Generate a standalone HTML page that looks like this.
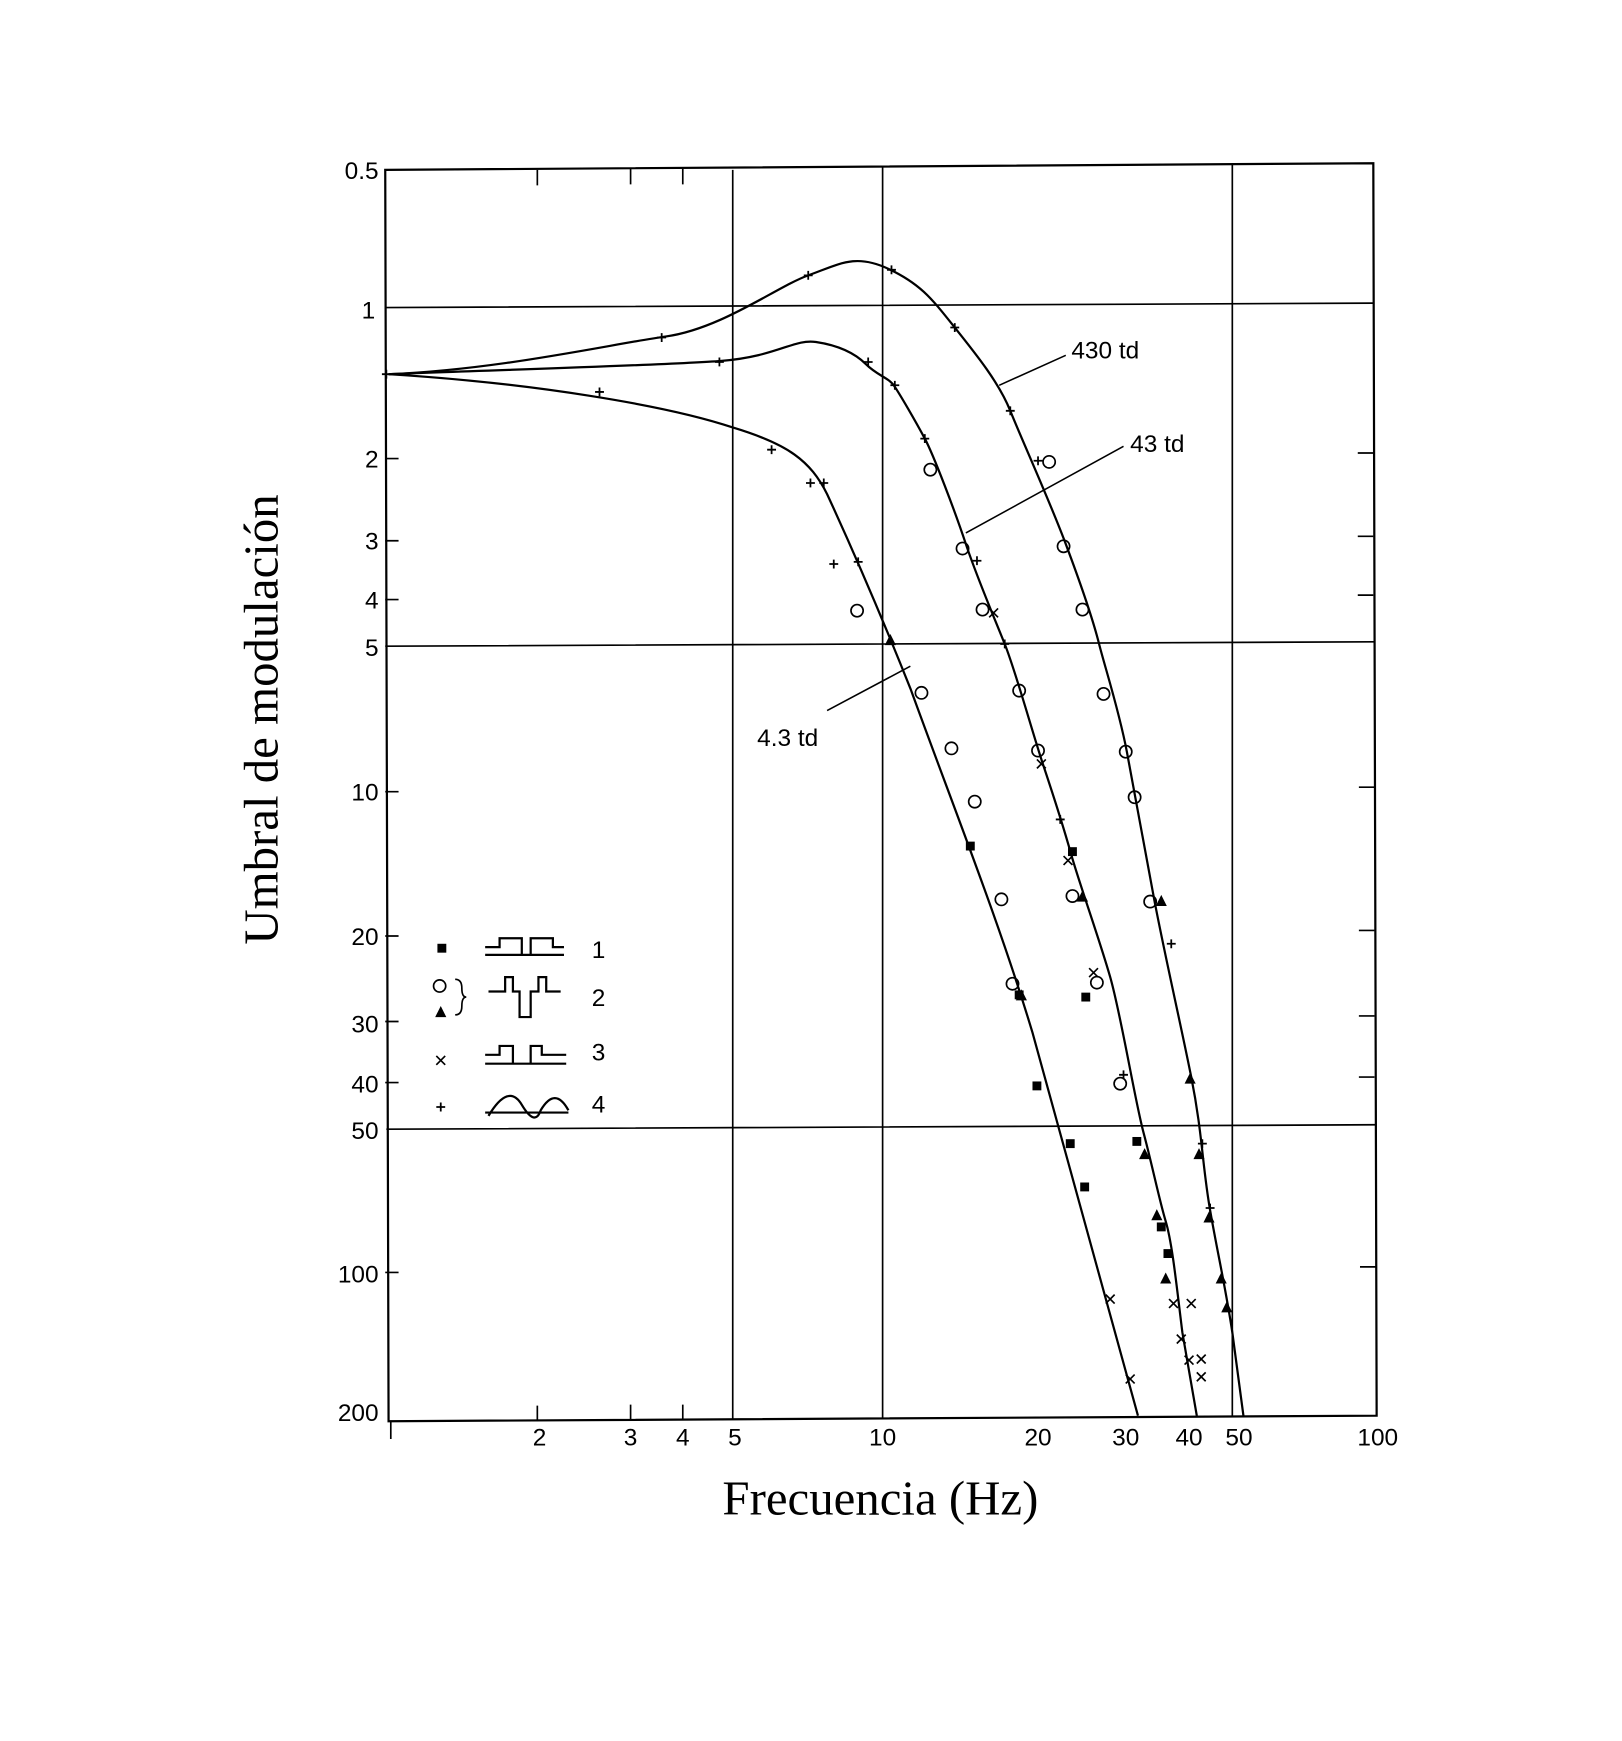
<!DOCTYPE html>
<html><head><meta charset="utf-8"><style>html,body{margin:0;padding:0;background:#fff}svg{display:block}</style></head><body>
<svg width="1622" height="1741" viewBox="0 0 1461 1568" preserveAspectRatio="none" xmlns="http://www.w3.org/2000/svg">
<defs>
<g id="p"><path d="M-4 0H4M0 -4V4" stroke="#000" stroke-width="1.6"/></g>
<g id="o"><circle r="5.5" fill="none" stroke="#000" stroke-width="1.5"/></g>
<g id="x"><path d="M-4 -4L4 4M-4 4L4 -4" stroke="#000" stroke-width="1.5"/></g>
<g id="s"><rect x="-4" y="-4" width="8" height="8" fill="#000"/></g>
<g id="t"><path d="M0 -6L5 4H-5Z" fill="#000"/></g>
</defs>
<g fill="none" stroke="#000" stroke-width="2">
<path d="M347 153L1237 147L1240 1275L350 1280Z"/>
<path d="M347 277L1237 273M347 582L1238 578M348 1017L1239 1013" stroke-width="1.5"/>
<path d="M660 153V1278M795 150V1278M1110 148V1276" stroke-width="1.5"/>
<path d="M347 413h12M347 487h12M347 540h12M347 713h12M347 843h12M347 920h12M347 975h12M347 1146h12M1237 408h-14M1237 483h-14M1237 536h-14M1238 709h-14M1238 838h-14M1238 915h-14M1238 970h-14M1239 1141h-14" stroke-width="1.5"/>
<path d="M484 1280v-14M568 1279v-14M615 1279v-14M484 153v14M568 152v14M615 152v14M352 1280v16" stroke-width="1.5"/>
</g>
<g fill="none" stroke="#000" stroke-width="2">
<path d="M350 337C450 333 550 310 600 303S700 258 728 248S770 228 800 242S840 270 860 295S900 345 910 370S945 450 960 490S985 560 990 580S1008 640 1015 677S1030 760 1040 812S1063 920 1073 970S1083 1050 1090 1090S1104 1160 1110 1200L1120 1275"/>
<path d="M350 337C450 333 600 329 650 325S715 305 735 308S770 318 780 328S800 340 805 347S825 380 833 395S860 460 870 490S895 555 905 580S930 660 940 690S958 745 965 770S990 845 1000 880S1022 990 1030 1020S1044 1080 1050 1100S1060 1160 1065 1200L1078 1275"/>
<path d="M350 337C480 345 600 365 660 385C710 400 730 415 745 445C775 510 800 570 820 620C860 730 900 830 930 930L1025 1275"/>
<path d="M960 320L900 347M1012 402L870 480M745 640L820 600" stroke-width="1.4"/>
</g>
<g>
<use href="#p" x="348" y="337"/><use href="#p" x="540" y="353"/><use href="#p" x="596" y="304"/><use href="#p" x="648" y="326"/><use href="#p" x="728" y="248"/><use href="#p" x="803" y="243"/><use href="#p" x="860" y="295"/><use href="#p" x="910" y="370"/><use href="#p" x="935" y="415"/><use href="#p" x="782" y="326"/><use href="#p" x="806" y="347"/><use href="#p" x="833" y="395"/><use href="#p" x="880" y="505"/><use href="#p" x="905" y="580"/><use href="#p" x="955" y="738"/><use href="#p" x="695" y="405"/><use href="#p" x="730" y="435"/><use href="#p" x="742" y="435"/><use href="#p" x="751" y="508"/><use href="#p" x="773" y="506"/><use href="#p" x="1055" y="850"/><use href="#p" x="1083" y="1030"/><use href="#p" x="1090" y="1088"/><use href="#p" x="1012" y="968"/>
<use href="#o" x="945" y="416"/><use href="#o" x="838" y="423"/><use href="#o" x="867" y="494"/><use href="#o" x="958" y="492"/><use href="#o" x="885" y="549"/><use href="#o" x="975" y="549"/><use href="#o" x="772" y="550"/><use href="#o" x="830" y="624"/><use href="#o" x="918" y="622"/><use href="#o" x="994" y="625"/><use href="#o" x="857" y="674"/><use href="#o" x="935" y="676"/><use href="#o" x="1014" y="677"/><use href="#o" x="878" y="722"/><use href="#o" x="1022" y="718"/><use href="#o" x="902" y="810"/><use href="#o" x="966" y="807"/><use href="#o" x="1036" y="812"/><use href="#o" x="912" y="886"/><use href="#o" x="988" y="885"/><use href="#o" x="1009" y="976"/>
<use href="#x" x="895" y="552"/><use href="#x" x="938" y="688"/><use href="#x" x="962" y="775"/><use href="#x" x="985" y="876"/><use href="#x" x="1000" y="1170"/><use href="#x" x="1018" y="1242"/><use href="#x" x="1057" y="1174"/><use href="#x" x="1073" y="1174"/><use href="#x" x="1064" y="1206"/><use href="#x" x="1071" y="1225"/><use href="#x" x="1082" y="1224"/><use href="#x" x="1082" y="1240"/>
<use href="#s" x="874" y="762"/><use href="#s" x="966" y="767"/><use href="#s" x="918" y="896"/><use href="#s" x="978" y="898"/><use href="#s" x="934" y="978"/><use href="#s" x="964" y="1030"/><use href="#s" x="977" y="1069"/><use href="#s" x="1024" y="1028"/><use href="#s" x="1046" y="1105"/><use href="#s" x="1052" y="1129"/>
<use href="#t" x="802" y="577"/><use href="#t" x="975" y="808"/><use href="#t" x="1046" y="812"/><use href="#t" x="920" y="897"/><use href="#t" x="1072" y="972"/><use href="#t" x="1031" y="1040"/><use href="#t" x="1080" y="1040"/><use href="#t" x="1042" y="1095"/><use href="#t" x="1089" y="1097"/><use href="#t" x="1050" y="1152"/><use href="#t" x="1100" y="1152"/><use href="#t" x="1105" y="1178"/>
</g>
<g font-family="Liberation Sans, sans-serif" font-size="22" fill="#000">
<g text-anchor="end">
<text x="341" y="161">0.5</text><text x="338" y="287">1</text><text x="341" y="421">2</text><text x="341" y="495">3</text><text x="341" y="548">4</text><text x="341" y="591">5</text><text x="341" y="721">10</text><text x="341" y="851">20</text><text x="341" y="930">30</text><text x="341" y="984">40</text><text x="341" y="1026">50</text><text x="341" y="1155">100</text><text x="341" y="1280">200</text>
</g>
<g text-anchor="middle">
<text x="486" y="1302">2</text><text x="568" y="1302">3</text><text x="615" y="1302">4</text><text x="662" y="1302">5</text><text x="795" y="1302">10</text><text x="935" y="1302">20</text><text x="1014" y="1302">30</text><text x="1071" y="1302">40</text><text x="1116" y="1302">50</text><text x="1241" y="1302">100</text>
</g>
<text x="965" y="323">430 td</text><text x="1018" y="407">43 td</text><text x="682" y="672">4.3 td</text>
<text x="533" y="863">1</text><text x="533" y="906">2</text><text x="533" y="955">3</text><text x="533" y="1002">4</text>
</g>
<g>
<use href="#s" x="398" y="854"/><use href="#o" x="396" y="888"/><use href="#t" x="397" y="912"/><use href="#x" x="397" y="955"/><use href="#p" x="397" y="997"/>
<path d="M410 882q6 0 6 8t4 8q-4 0-4 8t-6 8" fill="none" stroke="#000" stroke-width="1.5"/>
<g fill="none" stroke="#000" stroke-width="2">
<path d="M437 860H508M437 853H450V845H470V860H478V845H498V853H508"/>
<path d="M440 893H455V880H462V893H468V916H478V893H485V880H492V893H505"/>
<path d="M437 958H510M437 950H450V942H462V958H478V942H488V950H510"/>
<path d="M437 1002H512M440 1005Q458 975 470 995T487 1000Q500 978 512 1000"/>
</g>
</g>
<text transform="translate(250 648) rotate(-90)" text-anchor="middle" font-family="Liberation Serif, serif" font-size="44">Umbral de modulación</text>
<text x="793" y="1364" text-anchor="middle" font-family="Liberation Serif, serif" font-size="44">Frecuencia (Hz)</text>
</svg>
</body></html>
